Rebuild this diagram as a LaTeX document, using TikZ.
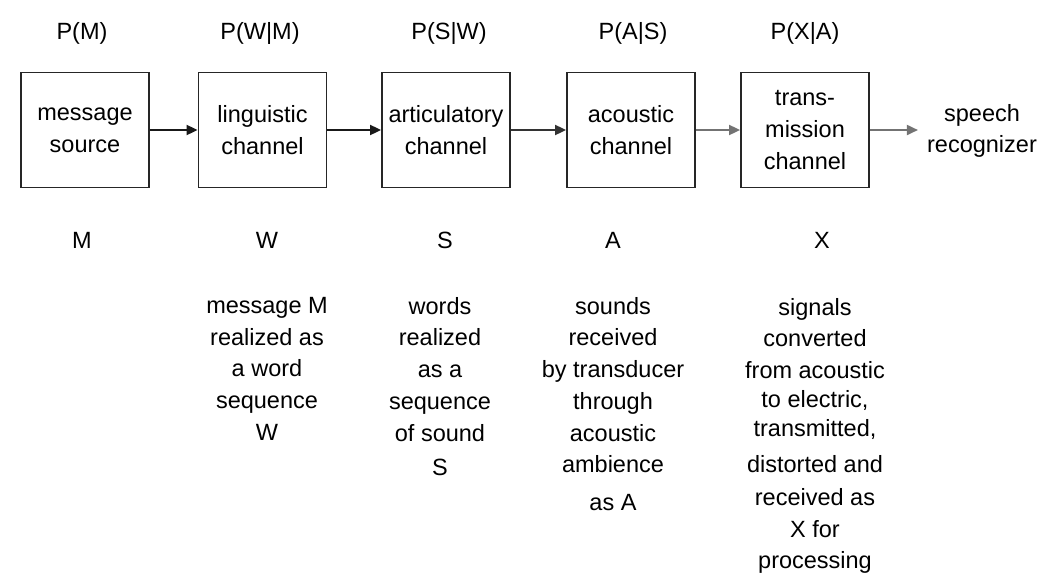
\documentclass[tikz,border=0pt]{standalone}
\usepackage{fontspec}
\setmainfont{Liberation Sans}
\usetikzlibrary{arrows.meta,calc}

\tikzset{
  chan/.style={draw=black!85, line width=1.8pt, minimum width=128pt,
               minimum height=115pt, inner sep=0pt, align=center},
  lbl/.style={inner sep=0pt, align=center},
  desc/.style={inner sep=0pt, align=center, anchor=north},
  flow/.style={line width=1.8pt, -{Triangle[length=11pt,width=10pt]}},
}

\begin{document}
\begin{tikzpicture}[x=1pt, y=-1pt, font=\fontsize{23.5}{31.7}\selectfont]
\useasboundingbox[fill=white] (0,0) rectangle (1057,574);

% channel blocks
\node[chan] (src) at (85,130)    {message\\source};
\node[chan] (lng) at (262.5,130) {linguistic\\channel};
\node[chan] (art) at (446,130)   {articulatory\\channel};
\node[chan] (aco) at (631,130)   {acoustic\\channel};
\node[chan] (trn) at (805,130)   {trans-\\mission\\channel};
\node[lbl, inner xsep=9pt] (rec) at (982,131) {speech\\recognizer};

% probabilities above the blocks
\node[lbl] (pM)  at (82,33)  {P(M)};
\node[lbl] (pWM) at (260,33) {P(W|M)};
\node[lbl] (pSW) at (449,33) {P(S|W)};
\node[lbl] (pAS) at (633,33) {P(A|S)};
\node[lbl] (pXA) at (805,33) {P(X|A)};

% flow between the blocks
\draw[flow, black!90] (src.east) -- (lng.west);
\draw[flow, black!90] (lng.east) -- (art.west);
\draw[flow, black!80] (art.east) -- (aco.west);
\draw[flow, black!55] (aco.east) -- (trn.west);
\draw[flow, black!55] (trn.east) -- (trn.east -| rec.west);

% variables below the blocks
\node[lbl] (vM) at (82,240)  {M};
\node[lbl] (vW) at (267,240) {W};
\node[lbl] (vS) at (445,240) {S};
\node[lbl] (vA) at (613,240) {A};
\node[lbl] (vX) at (822,240) {X};

% descriptions
\node[desc] (dW) at (267,297) {message M\\realized as\\a word\\sequence\\W};
\node[desc] (dS) at (440,297) {words\\realized\\as a\\sequence\\of sound\\[3pt]S};
\node[desc] (dA) at (613,297) {sounds\\received\\by transducer\\through\\acoustic\\ambience\\[6pt]as A};
\node[desc] (dX) at (815,298) {signals\\converted\\from acoustic\\[-3pt]to electric,\\[-3pt]transmitted,\\[5pt]distorted and\\[1pt]received as\\X for\\processing};
\end{tikzpicture}
\end{document}
